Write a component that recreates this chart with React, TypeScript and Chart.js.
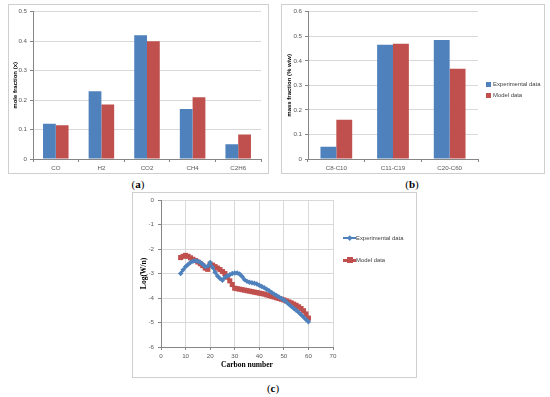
import React, { useEffect, useRef } from "react";
import { Chart, registerables } from "chart.js";
Chart.register(...registerables);

// ---- Data (a): gas composition ----
const gasCategories = ["CO", "H2", "CO2", "CH4", "C2H6"];
const gasExperimental = [0.12, 0.23, 0.42, 0.17, 0.05];
const gasModel = [0.115, 0.185, 0.4, 0.21, 0.083];

// ---- Data (b): liquid cuts ----
const cutCategories = ["C8-C10", "C11-C19", "C20-C60"];
const cutExperimental = [0.05, 0.465, 0.485];
const cutModel = [0.16, 0.47, 0.368];

// ---- Data (c): ASF distribution ----
const carbonNumbers = [
  8, 9, 10, 11, 12, 13, 14, 15, 16, 17, 18, 19, 20, 21, 22, 23, 24, 25, 26, 27,
  28, 29, 30, 31, 32, 33, 34, 35, 36, 37, 38, 39, 40, 41, 42, 43, 44, 45, 46, 47,
  48, 49, 50, 51, 52, 53, 54, 55, 56, 57, 58, 59, 60,
];
const logExperimental = [
  -3.0, -2.85, -2.72, -2.63, -2.55, -2.5, -2.48, -2.5, -2.55, -2.62, -2.72, -2.7,
  -2.55, -2.75, -2.95, -3.1, -3.2, -3.28, -3.15, -3.1, -3.05, -3.0, -2.98, -2.98,
  -3.02, -3.12, -3.25, -3.32, -3.36, -3.38, -3.4, -3.43, -3.48, -3.53, -3.58,
  -3.64, -3.7, -3.77, -3.84, -3.9, -3.96, -4.02, -4.08, -4.16, -4.25, -4.34,
  -4.42, -4.5, -4.58, -4.68, -4.78, -4.88, -4.97,
];
const logModel = [
  -2.35, -2.3, -2.26, -2.3, -2.36, -2.42, -2.47, -2.53, -2.6, -2.68, -2.78, -2.83,
  -2.62, -2.66, -2.72, -2.78, -2.84, -2.92, -3.0, -3.15, -3.3, -3.45, -3.6, -3.62,
  -3.64, -3.66, -3.68, -3.7, -3.72, -3.74, -3.76, -3.78, -3.8, -3.82, -3.84,
  -3.87, -3.9, -3.93, -3.96, -3.99, -4.02, -4.05, -4.08, -4.12, -4.16, -4.2,
  -4.25, -4.3, -4.36, -4.43, -4.52, -4.65, -4.82,
];

const seriesNames = ["Experimental data", "Model data"];

const BLUE = "#4F81BD";
const RED = "#C0504D";
const GRID = "#d9d9d9";
const AXIS = "#868686";
const TICK = "#595959";
const SANS = "'Liberation Sans', Arial, sans-serif";
const SERIF = "'Liberation Serif', 'Times New Roman', serif";

function ChartCanvas(props: { left: number; top: number; width: number; height: number; build: () => any }) {
  const ref = useRef<HTMLCanvasElement>(null);
  useEffect(() => {
    const chart = new Chart(ref.current as HTMLCanvasElement, props.build());
    return () => chart.destroy();
  }, []);
  return (
    <canvas
      ref={ref}
      width={props.width}
      height={props.height}
      style={{ position: "absolute", left: props.left, top: props.top, width: props.width, height: props.height }}
    />
  );
}

function barConfig(labels: string[], exp: number[], mod: number[], yMax: number, yTitle: string, yWidth: number, padRight: number) {
  return {
    type: "bar",
    data: {
      labels,
      datasets: [
        { label: seriesNames[0], data: exp, backgroundColor: BLUE, categoryPercentage: 0.56, barPercentage: 1 },
        { label: seriesNames[1], data: mod, backgroundColor: RED, categoryPercentage: 0.56, barPercentage: 1 },
      ],
    },
    options: {
      responsive: false,
      animation: false,
      devicePixelRatio: 1,
      layout: { padding: { left: 0, top: 6, right: padRight, bottom: 0 } },
      plugins: { legend: { display: false }, tooltip: { enabled: false } },
      scales: {
        x: {
          grid: { display: true, drawOnChartArea: false, drawTicks: true, tickLength: 3, color: AXIS, offset: true },
          border: { color: AXIS },
          ticks: { color: TICK, font: { family: SANS, size: 6.2 }, padding: 3, maxRotation: 0 },
          afterFit: (s: any) => { s.height = 15; },
        },
        y: {
          min: 0,
          max: yMax,
          ticks: { stepSize: 0.1, color: TICK, font: { family: SANS, size: 6.2 }, padding: 3 },
          grid: { color: GRID, tickLength: 3, tickColor: AXIS },
          border: { color: AXIS },
          title: { display: true, text: yTitle, color: "#000", font: { family: SANS, size: 6, weight: "bold" }, padding: { top: 4, bottom: 0 } },
          afterFit: (s: any) => { s.width = yWidth; },
        },
      },
    },
  };
}

function lineConfig() {
  const exp = carbonNumbers.map((c, i) => ({ x: c, y: logExperimental[i] }));
  const mod = carbonNumbers.map((c, i) => ({ x: c, y: logModel[i] }));
  return {
    type: "line",
    data: {
      datasets: [
        { label: seriesNames[0], data: exp, borderColor: BLUE, backgroundColor: BLUE, borderWidth: 2.2, pointStyle: "rectRot", pointRadius: 2.7, pointBorderWidth: 0, tension: 0 },
        { label: seriesNames[1], data: mod, borderColor: RED, backgroundColor: RED, borderWidth: 2.5, pointStyle: "rect", pointRadius: 3.6, pointBorderWidth: 0, tension: 0 },
      ],
    },
    options: {
      responsive: false,
      animation: false,
      devicePixelRatio: 1,
      layout: { padding: { left: 0, top: 8, right: 83, bottom: 0 } },
      plugins: { legend: { display: false }, tooltip: { enabled: false } },
      scales: {
        x: {
          type: "linear",
          min: 0,
          max: 70,
          ticks: { stepSize: 10, color: TICK, font: { family: SANS, size: 6.2 }, padding: 3, maxRotation: 0 },
          grid: { color: GRID, tickLength: 3, tickColor: AXIS },
          border: { color: AXIS },
          title: { display: true, text: "Carbon number", color: "#000", font: { family: SERIF, size: 7.5, weight: "bold" }, padding: { top: 0, bottom: 7 } },
          afterFit: (s: any) => { s.height = 30; },
        },
        y: {
          min: -6,
          max: 0,
          ticks: { stepSize: 1, color: TICK, font: { family: SANS, size: 6.2 }, padding: 4 },
          grid: { color: GRID, tickLength: 3, tickColor: AXIS },
          border: { color: AXIS },
          title: { display: true, text: "Log(W/n)", color: "#000", font: { family: SERIF, size: 7.5, weight: "bold" }, padding: { top: 8, bottom: 0 } },
          afterFit: (s: any) => { s.width = 29; },
        },
      },
    },
  };
}

const boxStyle = (left: number, top: number, width: number, height: number): React.CSSProperties => ({
  position: "absolute",
  left,
  top,
  width,
  height,
  boxSizing: "border-box",
  border: "1px solid #cfcfcf",
  background: "#fff",
});

const legendText: React.CSSProperties = {
  position: "absolute",
  fontFamily: SANS,
  fontSize: 5.9,
  color: "#404040",
  whiteSpace: "nowrap",
  lineHeight: "8px",
};

const panelLabel = (letter: string, cx: number, cy: number) => (
  <div
    style={{
      position: "absolute",
      left: cx - 20,
      top: cy - 7,
      width: 40,
      textAlign: "center",
      fontFamily: SERIF,
      fontSize: 11,
      lineHeight: "14px",
      color: "#000",
    }}
  >
    (<b>{letter}</b>)
  </div>
);

export default function App() {
  return (
    <div style={{ position: "absolute", left: 0, top: 0, width: 550, height: 397, background: "#fff", overflow: "hidden" }}>
      {/* (a) */}
      <div style={boxStyle(8, 4, 261, 170)} />
      <ChartCanvas left={8} top={5} width={260} height={169} build={() => barConfig(gasCategories, gasExperimental, gasModel, 0.5, "mole fraction (x)", 25, 7)} />
      {panelLabel("a", 138, 184)}

      {/* (b) */}
      <div style={boxStyle(281, 4, 264, 170)} />
      <ChartCanvas left={282} top={5} width={262} height={169} build={() => barConfig(cutCategories, cutExperimental, cutModel, 0.6, "mass fraction (% w/w)", 26, 66)} />
      <div style={{ position: "absolute", left: 486, top: 81.5, width: 5, height: 5, background: BLUE }} />
      <div style={{ ...legendText, left: 493, top: 80 }}>{seriesNames[0]}</div>
      <div style={{ position: "absolute", left: 486, top: 92.5, width: 5, height: 5, background: RED }} />
      <div style={{ ...legendText, left: 493, top: 91 }}>{seriesNames[1]}</div>
      {panelLabel("b", 412, 184)}

      {/* (c) */}
      <div style={boxStyle(132, 192, 285, 186)} />
      <ChartCanvas left={132} top={192} width={284} height={185} build={lineConfig} />
      <div style={{ position: "absolute", left: 343, top: 236.5, width: 13, height: 2, background: BLUE }} />
      <div style={{ position: "absolute", left: 347.5, top: 235.5, width: 3.5, height: 3.5, background: BLUE, transform: "rotate(45deg)" }} />
      <div style={{ ...legendText, left: 356, top: 233.5 }}>{seriesNames[0]}</div>
      <div style={{ position: "absolute", left: 343, top: 259, width: 13, height: 2.5, background: RED }} />
      <div style={{ position: "absolute", left: 346.5, top: 257, width: 6, height: 6, background: RED }} />
      <div style={{ ...legendText, left: 356, top: 256 }}>{seriesNames[1]}</div>
      {panelLabel("c", 273, 388)}
    </div>
  );
}
